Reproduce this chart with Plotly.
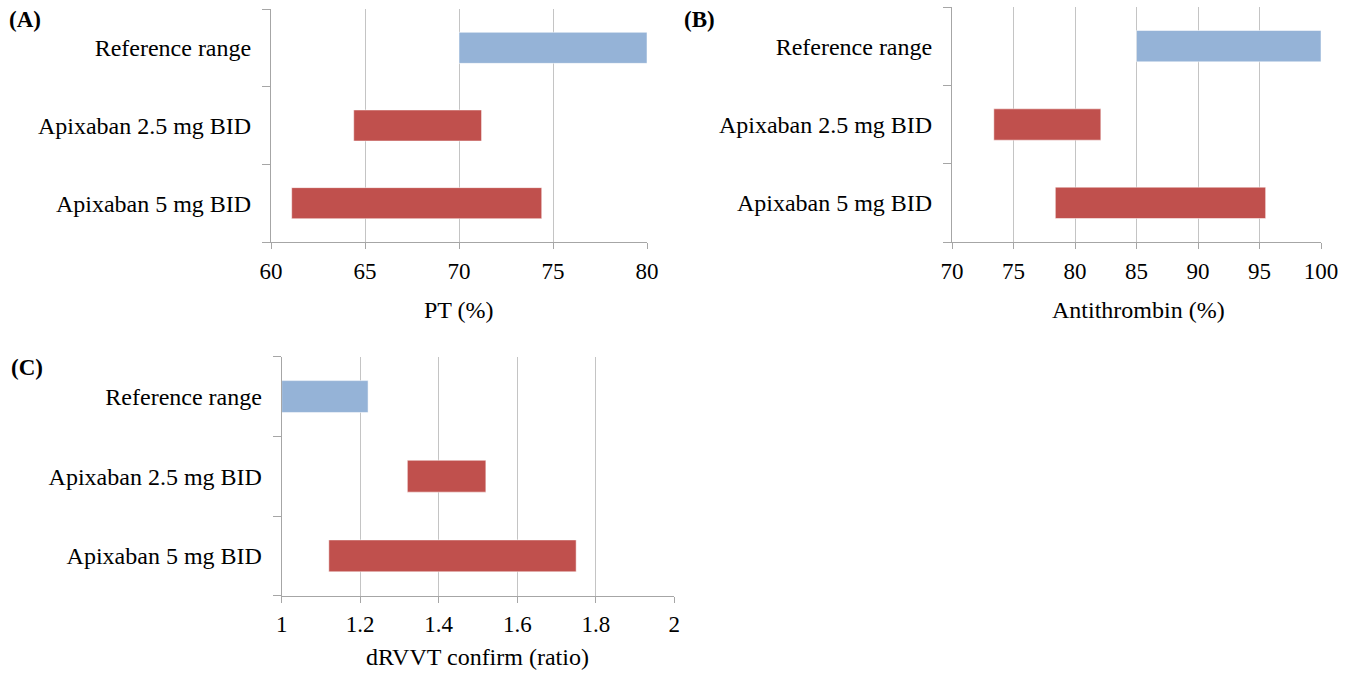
import plotly.graph_objects as go

# ---- data ----
categories = ["Reference range", "Apixaban 2.5 mg BID", "Apixaban 5 mg BID"]

pt_low = [70.0, 64.4, 61.1]
pt_high = [80.0, 71.2, 74.4]

at_low = [85.0, 73.4, 78.4]
at_high = [100.0, 82.1, 95.5]

drvvt_low = [1.0, 1.32, 1.12]
drvvt_high = [1.22, 1.52, 1.75]

pt_ticks = [60, 65, 70, 75, 80]
at_ticks = [70, 75, 80, 85, 90, 95, 100]
drvvt_ticks = [1, 1.2, 1.4, 1.6, 1.8, 2]
drvvt_ticktext = ["1", "1.2", "1.4", "1.6", "1.8", "2"]

panel_labels = ["(A)", "(B)", "(C)"]
axis_titles = ["PT (%)", "Antithrombin (%)", "dRVVT confirm (ratio)"]

BLUE = "#95B3D7"
RED = "#C0504D"
colors = [BLUE, RED, RED]

W, H = 1356, 684
FONT = "Liberation Serif"
FS = 23
GRID = "#c4c4c4"
AXIS = "#a6a6a6"

fig = go.Figure()

panels = [
    dict(low=pt_low, high=pt_high, xa="x", ya="y", rng=[60, 80], tv=pt_ticks, tt=[str(t) for t in pt_ticks],
         px=(271, 647), py=(9, 242)),
    dict(low=at_low, high=at_high, xa="x2", ya="y2", rng=[70, 100], tv=at_ticks, tt=[str(t) for t in at_ticks],
         px=(952, 1321), py=(7, 242)),
    dict(low=drvvt_low, high=drvvt_high, xa="x3", ya="y3", rng=[1, 2], tv=drvvt_ticks, tt=drvvt_ticktext,
         px=(281.7, 674.3), py=(356.7, 595.7)),
]

layout_axes = {}
for i, p in enumerate(panels):
    widths = [h - l for l, h in zip(p["low"], p["high"])]
    fig.add_trace(go.Bar(
        y=categories, x=widths, base=p["low"], orientation="h",
        marker=dict(color=colors, line=dict(color="rgba(255,255,255,0.5)", width=1)),
        width=0.4, xaxis=p["xa"], yaxis=p["ya"], showlegend=False, hoverinfo="skip",
    ))
    sfx = "" if i == 0 else str(i + 1)
    layout_axes["xaxis" + sfx] = dict(
        domain=[p["px"][0] / W, p["px"][1] / W],
        anchor=p["ya"], range=p["rng"], tickvals=p["tv"], ticktext=p["tt"],
        showgrid=True, gridcolor=GRID, gridwidth=1,
        showline=True, linecolor=AXIS, linewidth=1,
        ticks="outside", ticklen=6, tickcolor=AXIS,
        tickfont=dict(family=FONT, size=FS, color="black"),
        ticklabelstandoff=2,
        zeroline=False, fixedrange=True, automargin=False,
    )
    layout_axes["yaxis" + sfx] = dict(
        domain=[1 - p["py"][1] / H, 1 - p["py"][0] / H],
        anchor=p["xa"], type="category",
        categoryorder="array", categoryarray=categories[::-1],
        showgrid=False, showline=True, linecolor=AXIS, linewidth=1,
        ticks="outside", ticklen=8, tickcolor=AXIS, tickson="boundaries",
        tickfont=dict(family=FONT, size=FS + 1, color="black"),
        ticklabelstandoff=14,
        zeroline=False, fixedrange=True, automargin=False,
    )

fig.update_layout(**layout_axes)

annotations = []
# panel labels
for text, (x, y) in zip(panel_labels, [(7, 20), (682, 20), (9, 367)]):
    annotations.append(dict(text="<b>%s</b>" % text, x=x / W, y=1 - y / H, xref="paper", yref="paper",
                            xanchor="left", yanchor="middle", showarrow=False,
                            font=dict(family=FONT, size=FS, color="black")))
# axis titles
for text, (x, y) in zip(axis_titles, [(459, 310), (1138, 310), (478, 657)]):
    annotations.append(dict(text=text, x=x / W, y=1 - y / H, xref="paper", yref="paper",
                            xanchor="center", yanchor="middle", showarrow=False,
                            font=dict(family=FONT, size=FS + 1, color="black")))

fig.update_layout(
    width=W, height=H,
    margin=dict(l=0, r=0, t=0, b=0, autoexpand=False),
    paper_bgcolor="white", plot_bgcolor="white",
    font=dict(family=FONT),
    annotations=annotations,
    bargap=0.6,
)

fig.write_html("out.html", config={"displayModeBar": False},
               post_script="document.body.style.margin='0px';document.body.style.overflow='hidden';")
